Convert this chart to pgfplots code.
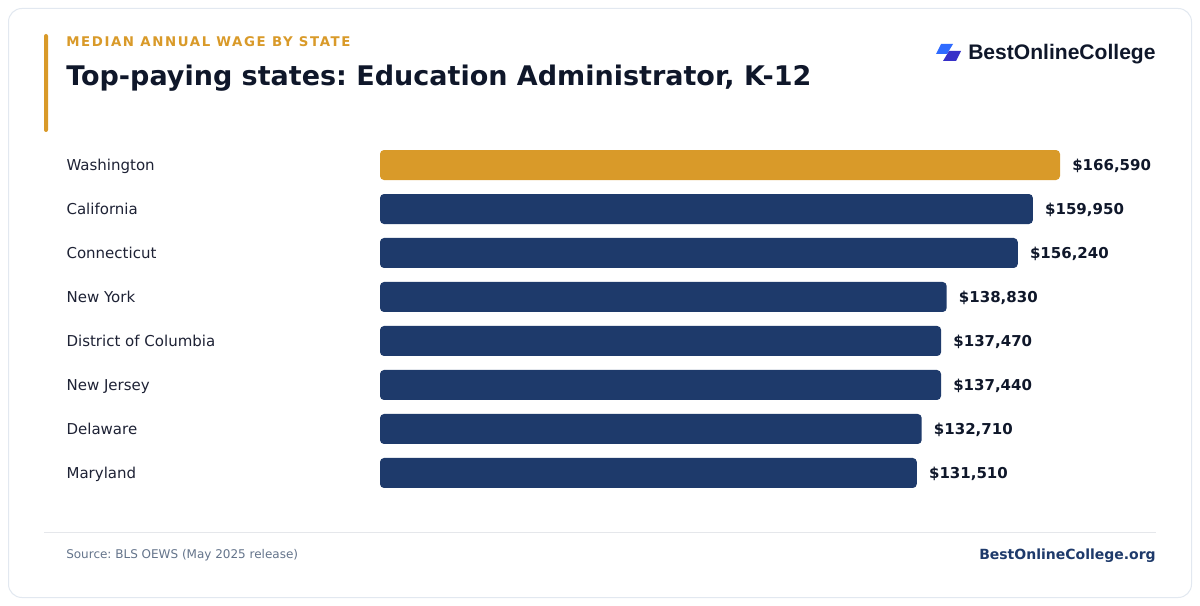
\documentclass[border=0pt]{standalone}
\usepackage{pgfplots}
\pgfplotsset{compat=1.18}
\usepackage{pgfplotstable}
\usepackage{fontspec}
\setmainfont{DejaVu Sans}
\newfontfamily\logofont{Liberation Sans}
\frenchspacing
\definecolor{gold}{HTML}{D99A29}
\definecolor{navy}{HTML}{1E3A6B}
\definecolor{titlec}{HTML}{0F172A}
\definecolor{labelc}{HTML}{1E2235}
\definecolor{graytext}{HTML}{64748B}
\definecolor{cardborder}{HTML}{E2E8F0}
\definecolor{sepline}{HTML}{E5E7EB}
\definecolor{logoA}{HTML}{2F6BFF}
\definecolor{logoB}{HTML}{3730C8}

\pgfplotstableread{
y x label
0 166590 {\$166,590}
}\washtab
\pgfplotstableread{
y x label
1 159950 {\$159,950}
2 156240 {\$156,240}
3 138830 {\$138,830}
4 137470 {\$137,470}
5 137440 {\$137,440}
6 132710 {\$132,710}
7 131510 {\$131,510}
}\resttab

\begin{document}
\begin{tikzpicture}[x=0.75pt,y=-0.75pt]
\useasboundingbox (0,0) rectangle (1200,606);
\fill[white] (0,0) rectangle (1200,606);
\draw[cardborder, line width=0.75pt, fill=white, rounded corners=10pt] (8.5,8.5) rectangle (1191.5,597.5);
\fill[gold, rounded corners=1.5pt] (44,34) rectangle (48,132);
\node[anchor=base west, inner sep=0, text=gold, font=\fontsize{10}{12}\selectfont\bfseries\addfontfeature{LetterSpace=12}] at (66,46.5) {MEDIAN ANNUAL WAGE BY STATE};
\node[anchor=base west, inner sep=0, text=titlec, font=\fontsize{20.25}{24}\selectfont\bfseries] at (66,86) {Top-paying states: Education Administrator, K-12};
% logo
\fill[logoA] (941,44)--(953,44)--(947,54)--(936,54)--cycle;
\fill[logoB] (949,51)--(961,51)--(956,61)--(943,61)--cycle;
\node[anchor=base west, inner sep=0, text=titlec, font=\fontsize{15.8}{18}\selectfont\logofont\bfseries] at (968,60) {BestOnlineCollege};
% footer
\draw[sepline, line width=0.75pt] (44,532)--(1156,532);
\node[anchor=base west, inner sep=0, text=graytext, font=\fontsize{9.0}{12}\selectfont] at (66,558.5) {Source: BLS OEWS (May 2025 release)};
\node[anchor=base east, inner sep=0, text=navy, font=\fontsize{10.5}{12}\selectfont\bfseries] at (1156,559) {BestOnlineCollege.org};

\begin{axis}[
  at={(285pt,-107.25pt)}, anchor=north west,
  scale only axis, width=510pt, height=264pt,
  xmin=0, xmax=166590, ymin=-0.5, ymax=7.5,
  y dir=reverse, enlargelimits=false, clip=false,
  xbar, bar width=22.5pt,
  axis line style={draw=none}, tick style={draw=none},
  xtick=\empty, ytick={0,...,7},
  yticklabels={Washington, California, Connecticut, New York, District of Columbia, New Jersey, Delaware, Maryland},
  yticklabel style={anchor=west, inner sep=0pt, text height=8.2pt, text depth=0pt, xshift=-231pt, font=\fontsize{11.25}{13}\selectfont, text=labelc},
  nodes near coords, point meta=explicit symbolic,
  every node near coord/.append style={anchor=west, inner sep=0pt, text height=8.2pt, text depth=0pt, xshift=9pt, font=\fontsize{11.25}{13}\selectfont\bfseries, text=titlec},
]
\addplot[fill=gold, draw=none, rounded corners=3pt, bar shift=0pt] table[x=x, y=y, meta=label] {\washtab};
\addplot[fill=navy, draw=none, rounded corners=3pt, bar shift=0pt] table[x=x, y=y, meta=label] {\resttab};
\end{axis}
\end{tikzpicture}
\end{document}
